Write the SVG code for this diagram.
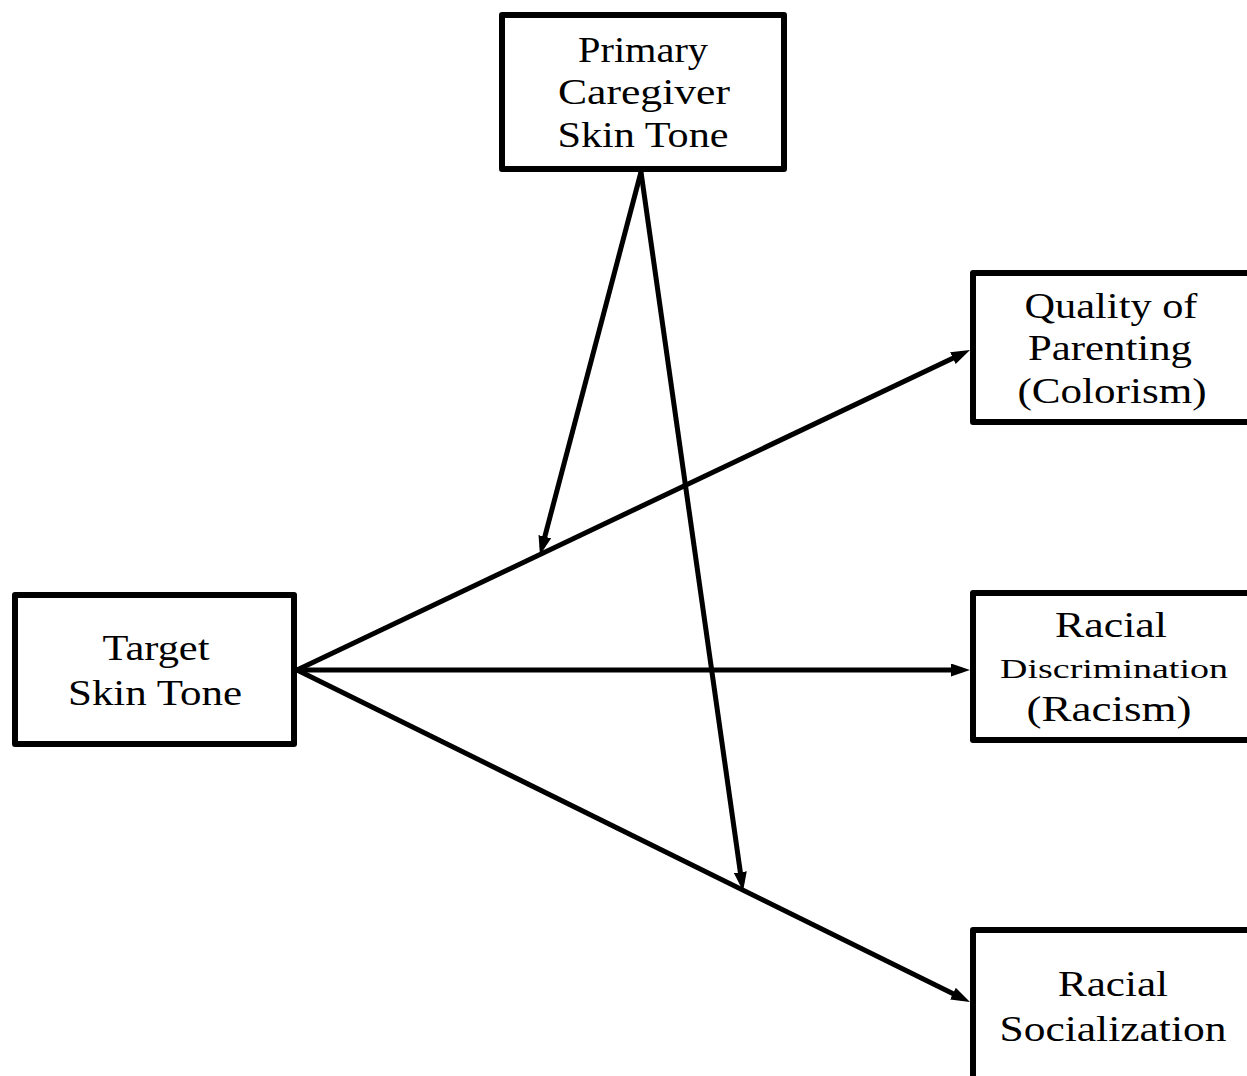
<svg xmlns="http://www.w3.org/2000/svg" width="1247" height="1076" viewBox="0 0 1247 1076">
<style>
.box{fill:#fff;stroke:#000;stroke-width:6;stroke-linejoin:round}
.lbl{font-family:"Liberation Serif","Times New Roman",serif;font-size:36px;fill:#000;text-anchor:middle}
.sm{font-size:28px}
.edge{stroke:#000;stroke-width:5;fill:none;marker-end:url(#ah)}
</style>
<defs>
<marker id="ah" markerUnits="userSpaceOnUse" viewBox="0 0 19 13" markerWidth="19" markerHeight="13" refX="11" refY="6.5" orient="auto">
<path d="M0,0 L19,6.5 L0,13 Z" fill="#000"/>
</marker>
</defs>
<rect width="1247" height="1076" fill="#fff"/>
<g id="edges">
<line class="edge" x1="297" y1="670" x2="962.8" y2="353.4"/>
<line class="edge" x1="297" y1="670" x2="962" y2="670"/>
<line class="edge" x1="297" y1="670" x2="962.8" y2="998.5"/>
<line class="edge" x1="641" y1="172" x2="542" y2="547.3"/>
<line class="edge" x1="641" y1="172" x2="741.9" y2="883.1"/>
</g>
<g id="caregiver">
<rect class="box" x="502" y="15" width="282" height="154"/>
<text class="lbl" x="643" y="62" textLength="130" lengthAdjust="spacingAndGlyphs">Primary</text>
<text class="lbl" x="644" y="104" textLength="172" lengthAdjust="spacingAndGlyphs">Caregiver</text>
<text class="lbl" x="643" y="147" textLength="171" lengthAdjust="spacingAndGlyphs">Skin Tone</text>
</g>
<g id="target">
<rect class="box" x="15" y="595" width="279" height="149"/>
<text class="lbl" x="156" y="660" textLength="107" lengthAdjust="spacingAndGlyphs">Target</text>
<text class="lbl" x="155" y="705" textLength="174" lengthAdjust="spacingAndGlyphs">Skin Tone</text>
</g>
<g id="parenting">
<rect class="box" x="973" y="273" width="300" height="149"/>
<text class="lbl" x="1111" y="318" textLength="173" lengthAdjust="spacingAndGlyphs">Quality of</text>
<text class="lbl" x="1110" y="360" textLength="164" lengthAdjust="spacingAndGlyphs">Parenting</text>
<text class="lbl" x="1112" y="403" textLength="189" lengthAdjust="spacingAndGlyphs">(Colorism)</text>
</g>
<g id="discrimination">
<rect class="box" x="973" y="593" width="300" height="147"/>
<text class="lbl" x="1111" y="637" textLength="112" lengthAdjust="spacingAndGlyphs">Racial</text>
<text class="lbl sm" x="1114" y="678" textLength="228" lengthAdjust="spacingAndGlyphs">Discrimination</text>
<text class="lbl" x="1109" y="721" textLength="165" lengthAdjust="spacingAndGlyphs">(Racism)</text>
</g>
<g id="socialization">
<rect class="box" x="973" y="930" width="300" height="200"/>
<text class="lbl" x="1113" y="996" textLength="110" lengthAdjust="spacingAndGlyphs">Racial</text>
<text class="lbl" x="1113" y="1041" textLength="227" lengthAdjust="spacingAndGlyphs">Socialization</text>
</g>
</svg>
